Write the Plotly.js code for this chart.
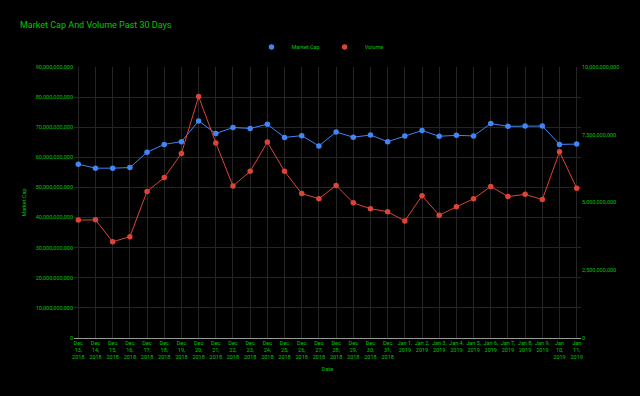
<!DOCTYPE html>
<html>
<head>
<meta charset="utf-8">
<script src="https://cdn.plot.ly/plotly-3.0.1.min.js"></script>
<style>html,body{margin:0;padding:0;background:#000;}#chart{width:640px;height:396px;}</style>
</head>
<body>
<div id="chart"></div>
<script>
const dates = [
  "Dec<br>13,<br>2018","Dec<br>14,<br>2018","Dec<br>15,<br>2018","Dec<br>16,<br>2018","Dec<br>17,<br>2018",
  "Dec<br>18,<br>2018","Dec<br>19,<br>2018","Dec<br>20,<br>2018","Dec<br>21,<br>2018","Dec<br>22,<br>2018",
  "Dec<br>23,<br>2018","Dec<br>24,<br>2018","Dec<br>25,<br>2018","Dec<br>26,<br>2018","Dec<br>27,<br>2018",
  "Dec<br>28,<br>2018","Dec<br>29,<br>2018","Dec<br>30,<br>2018","Dec<br>31,<br>2018","Jan 1,<br>2019",
  "Jan 2,<br>2019","Jan 3,<br>2019","Jan 4,<br>2019","Jan 5,<br>2019","Jan 6,<br>2019",
  "Jan 7,<br>2019","Jan 8,<br>2019","Jan 9,<br>2019","Jan<br>10,<br>2019","Jan<br>11,<br>2019"
];
const marketCap = [
  57.7e9, 56.4e9, 56.4e9, 56.6e9, 61.7e9, 64.3e9, 65.2e9, 72.1e9, 67.9e9, 69.9e9,
  69.6e9, 71.0e9, 66.6e9, 67.2e9, 63.8e9, 68.4e9, 66.7e9, 67.4e9, 65.2e9, 67.1e9,
  68.9e9, 67.0e9, 67.3e9, 67.1e9, 71.2e9, 70.3e9, 70.4e9, 70.4e9, 64.3e9, 64.4e9
];
const volume = [
  4.35e9, 4.36e9, 3.55e9, 3.74e9, 5.41e9, 5.92e9, 6.81e9, 8.91e9, 7.20e9, 5.61e9,
  6.15e9, 7.23e9, 6.15e9, 5.33e9, 5.14e9, 5.63e9, 4.99e9, 4.77e9, 4.66e9, 4.32e9,
  5.25e9, 4.53e9, 4.84e9, 5.14e9, 5.59e9, 5.22e9, 5.30e9, 5.11e9, 6.87e9, 5.53e9
];
const green = '#00c800';
const font = {family: 'Roboto, sans-serif', color: green, size: 5.5};
const blue = '#4285F4', red = '#DB4437';
const grid = '#252525';
const traces = [
  {x: dates, y: marketCap, name: 'Market Cap', type: 'scatter', mode: 'lines',
   line: {color: blue, width: 1}, yaxis: 'y', showlegend: false, legendgroup: 'mc'},
  {x: dates, y: volume, name: 'Volume', type: 'scatter', mode: 'lines',
   line: {color: red, width: 1}, yaxis: 'y2', showlegend: false, legendgroup: 'v'},
  {x: dates, y: marketCap, name: 'Market Cap', type: 'scatter', mode: 'markers',
   marker: {color: blue, size: 5.5}, yaxis: 'y', legendgroup: 'mc'},
  {x: dates, y: volume, name: 'Volume', type: 'scatter', mode: 'markers',
   marker: {color: red, size: 5.5}, yaxis: 'y2', legendgroup: 'v'}
];
const layout = {
  width: 640, height: 396,
  paper_bgcolor: '#000', plot_bgcolor: '#000',
  font: font,
  margin: {l: 74, r: 59, t: 66.5, b: 57.7},
  title: {text: 'Market Cap And Volume Past 30 Days', x: 20/640, xanchor: 'left', xref: 'container',
          y: 1 - 25/396, yanchor: 'middle', yref: 'container',
          font: {family: 'Roboto, sans-serif', size: 9, color: green}},
  showlegend: true,
  legend: {orientation: 'h', x: 0.5, xanchor: 'center', xref: 'container',
           y: 1 - 47/396, yanchor: 'middle', yref: 'container',
           font: {family: 'Roboto, sans-serif', size: 5.5, color: green},
           itemwidth: 30, bgcolor: 'rgba(0,0,0,0)'},
  xaxis: {type: 'category', range: [-0.25, 29.25], showgrid: true, gridcolor: grid, gridwidth: 1,
          ticks: '', tickfont: font, zeroline: false, showline: false, tickangle: 0,
          title: {text: 'Date', font: font, standoff: 8}},
  yaxis: {range: [0, 9e10], dtick: 1e10, tickformat: ',', showgrid: true, gridcolor: grid, gridwidth: 1,
          zeroline: true, zerolinecolor: '#999', zerolinewidth: 1, ticks: '', tickfont: font,
          title: {text: 'Market Cap', font: font, standoff: 8}, showline: false},
  yaxis2: {range: [0, 1e10], dtick: 2.5e9, tickformat: ',', overlaying: 'y', side: 'right',
           showgrid: false, zeroline: false, ticks: '', tickfont: font, showline: false}
};
Plotly.newPlot('chart', traces, layout, {displayModeBar: false, staticPlot: true});
</script>
</body>
</html>
